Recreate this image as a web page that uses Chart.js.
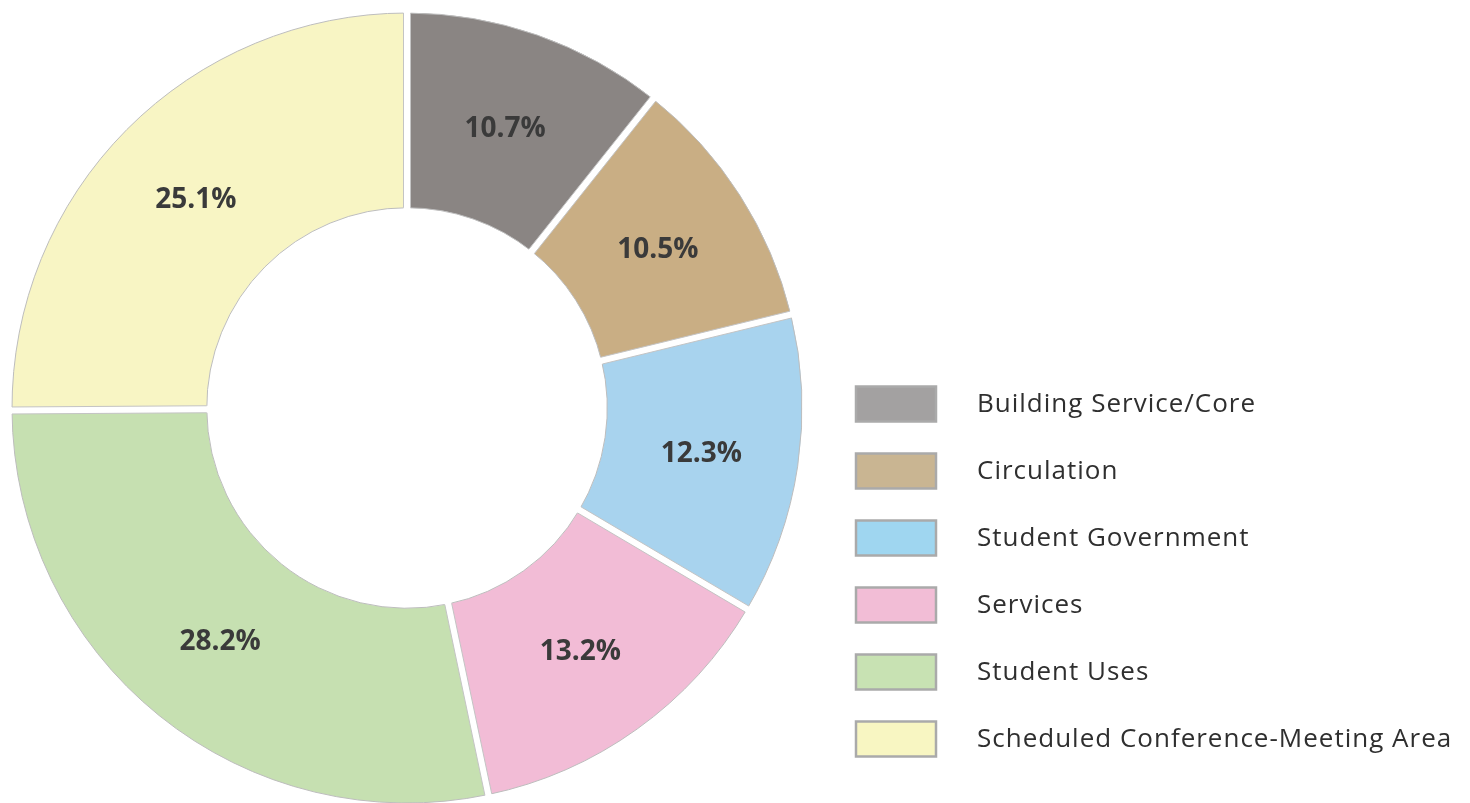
<!DOCTYPE html>
<html>
<head>
<meta charset="utf-8">
<script src="https://cdn.jsdelivr.net/npm/chart.js@4/dist/chart.umd.min.js"></script>
<style>
html,body{margin:0;padding:0;background:#fff;}
#wrap{position:relative;width:1470px;height:803px;}
</style>
</head>
<body>
<div id="wrap"><canvas id="c" width="1470" height="803"></canvas></div>
<script>
const categories = ["Building Service/Core","Circulation","Student Government","Services","Student Uses","Scheduled Conference-Meeting Area"];
const shares = [10.7, 10.5, 12.3, 13.2, 28.2, 25.1];
const sliceColors = ["#8a8583","#c9ae84","#a8d3ee","#f2bcd6","#c6e0b1","#f8f5c4"];
const legendColors = ["#a3a1a1","#c9b592","#9fd6f0","#f2bdd6","#c8e2b3","#f8f6c2"];

const gapPlugin = {
  id: 'sliceGaps',
  afterDatasetsDraw(chart) {
    const ctx = chart.ctx;
    const meta = chart.getDatasetMeta(0);
    const half = 3.5;
    ctx.save();
    meta.data.forEach((arc) => {
      const {x, y, startAngle, innerRadius, outerRadius} = arc.getProps(['x','y','startAngle','innerRadius','outerRadius'], true);
      const c = Math.cos(startAngle), s = Math.sin(startAngle);
      ctx.strokeStyle = '#ffffff';
      ctx.lineWidth = half * 2;
      ctx.lineCap = 'butt';
      ctx.beginPath();
      ctx.moveTo(x + (innerRadius - 3) * c, y + (innerRadius - 3) * s);
      ctx.lineTo(x + (outerRadius + 3) * c, y + (outerRadius + 3) * s);
      ctx.stroke();
      ctx.strokeStyle = '#c4c4c4';
      ctx.lineWidth = 1;
      [-1, 1].forEach(sign => {
        const nx = -s * half * sign, ny = c * half * sign;
        ctx.beginPath();
        ctx.moveTo(x + innerRadius * c + nx, y + innerRadius * s + ny);
        ctx.lineTo(x + outerRadius * c + nx, y + outerRadius * s + ny);
        ctx.stroke();
      });
    });
    ctx.restore();
  }
};

const labelPlugin = {
  id: 'sliceLabels',
  afterDatasetsDraw(chart) {
    const ctx = chart.ctx;
    const meta = chart.getDatasetMeta(0);
    ctx.save();
    ctx.font = 'bold 28px "Open Sans", "Liberation Sans", sans-serif';
    ctx.fillStyle = '#3a3a3a';
    ctx.textAlign = 'center';
    ctx.textBaseline = 'middle';
    meta.data.forEach((arc, i) => {
      const p = arc.tooltipPosition();
      ctx.fillText(shares[i].toFixed(1) + '%', p.x, p.y + 2);
    });
    ctx.restore();
  }
};

const legendPlugin = {
  id: 'sideLegend',
  afterDraw(chart) {
    const ctx = chart.ctx;
    ctx.save();
    const x0 = 856, y0 = 404, step = 67, bw = 80, bh = 35;
    categories.forEach((name, i) => {
      const cy = y0 + i * step;
      ctx.fillStyle = legendColors[i];
      ctx.fillRect(x0, cy - bh/2, bw, bh);
      ctx.strokeStyle = '#aaaaaa';
      ctx.lineWidth = 2.5;
      ctx.strokeRect(x0, cy - bh/2, bw, bh);
      ctx.fillStyle = '#2f2f2f';
      ctx.font = '26px "Open Sans", "Liberation Sans", sans-serif';
      ctx.letterSpacing = '1px';
      ctx.textAlign = 'left';
      ctx.textBaseline = 'middle';
      ctx.fillText(name, 977, cy + 1);
      ctx.letterSpacing = '0px';
    });
    ctx.restore();
  }
};

new Chart(document.getElementById('c'), {
  type: 'doughnut',
  data: {
    labels: categories,
    datasets: [{
      data: shares,
      backgroundColor: sliceColors,
      borderColor: '#bdbdbd',
      borderWidth: 1,
      radius: 395,
      cutout: 200
    }]
  },
  options: {
    responsive: false,
    animation: false,
    layout: { padding: { left: 12, top: 13, right: 668, bottom: 0 } },
    plugins: {
      legend: { display: false },
      tooltip: { enabled: false }
    }
  },
  plugins: [gapPlugin, labelPlugin, legendPlugin]
});
</script>
</body>
</html>
